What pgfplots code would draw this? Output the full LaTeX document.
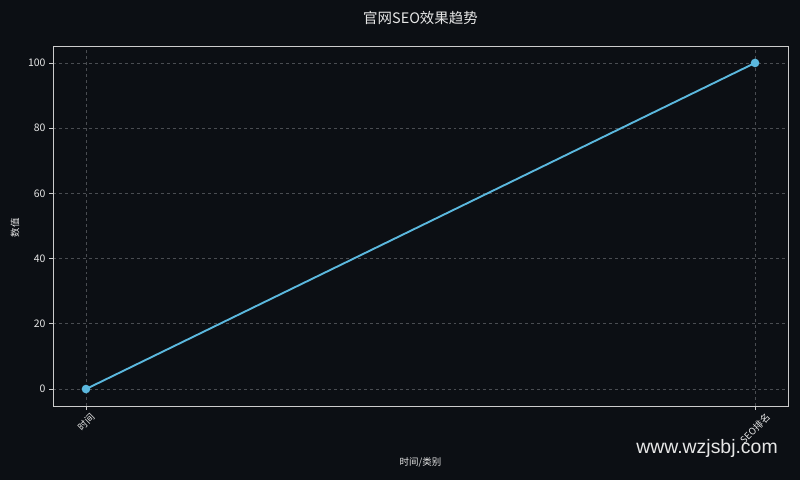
\documentclass[border=0pt]{standalone}
\usepackage{fontspec}
\setmainfont{Noto Sans CJK SC}
\newfontfamily\wmfont{Liberation Sans}
\usepackage{graphicx}
\usepackage{pgfplots}
\pgfplotsset{compat=1.18}

\definecolor{bgdark}{HTML}{0C0F14}
\definecolor{linec}{HTML}{5BB8DE}
\definecolor{axisc}{HTML}{CCCCCC}
\definecolor{gridc}{HTML}{4A4D52}
\definecolor{textc}{HTML}{E6E6E6}

\begin{document}
\begin{tikzpicture}
\fill[bgdark] (0,0) rectangle (800bp,480bp);

\begin{axis}[
    at={(53bp,74bp)}, anchor=south west,
    width=735bp, height=360bp, scale only axis,
    xmin=-0.0493, xmax=1.0493,
    ymin=-5.2, ymax=105.2,
    xtick={0,1},
    xticklabels={\rotatebox{45}{时间},\rotatebox{45}{SEO排名}},
    ytick={0,20,40,60,80,100},
    axis line style={axisc, line width=0.8pt},
    tick align=outside,
    xtick pos=bottom, ytick pos=left,
    major tick length=4bp,
    tick style={axisc, line width=0.8pt},
    x tick label style={anchor=north, inner sep=2bp, font=\fontsize{9.5}{10}\selectfont, text=textc},
    y tick label style={font=\fontsize{10.5}{12}\selectfont, text=textc},
    /pgf/number format/assume math mode=true,
    grid=major,
    grid style={gridc, dashed, line width=0.7pt},
]
\addplot[color=linec, line width=1.9pt, mark=*, mark size=3.3bp,
    mark options={fill=linec, draw=linec}]
    coordinates {(0,0) (1,100)};
\end{axis}

\node[text=textc, font=\fontsize{14.5}{17}\selectfont] at (420.5bp,462bp) {官网SEO效果趋势};
\node[text=textc, font=\fontsize{9.5}{11}\selectfont] at (420.5bp,18bp) {时间/类别};
\node[text=textc, font=\fontsize{9.5}{11}\selectfont, rotate=90] at (15bp,252bp) {数值};
\node[text=textc!95!white, font=\wmfont\fontsize{19.5}{22}\selectfont] at (707bp,32bp) {www.wzjsbj.com};
\end{tikzpicture}
\end{document}
